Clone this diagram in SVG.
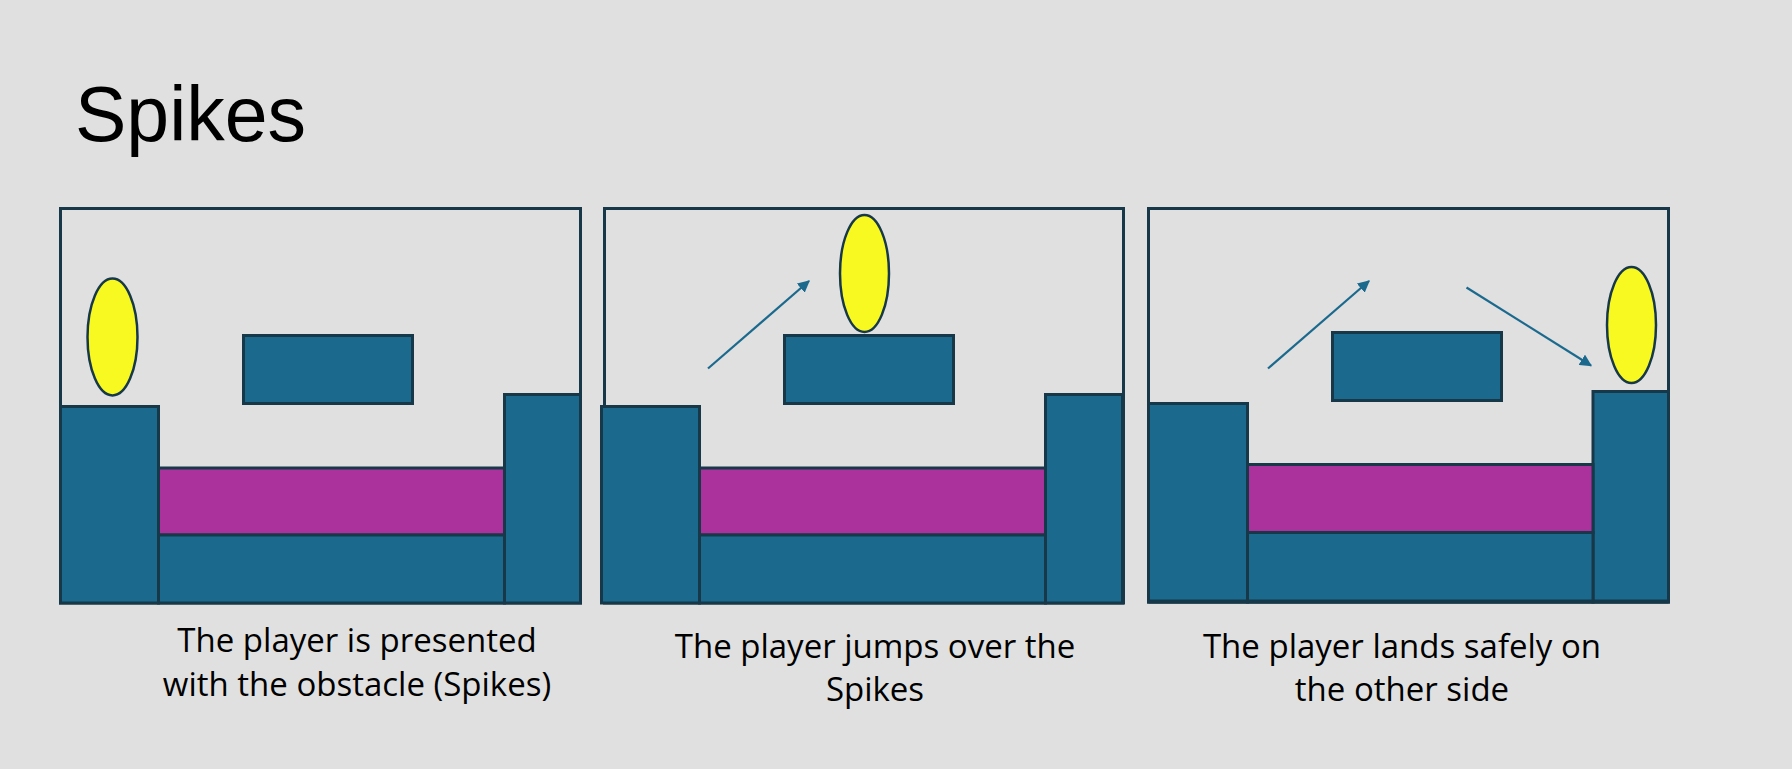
<svg xmlns="http://www.w3.org/2000/svg" width="1792" height="769" viewBox="0 0 1792 769">
<defs>
<style>
.frame{fill:#e0e0e0;stroke:#173848;stroke-width:3}
.blk{fill:#1b6a8e;stroke:#173848;stroke-width:3}
.spk{fill:#ab319c;stroke:#173848;stroke-width:3}
.ply{fill:#f8f920;stroke:#173848;stroke-width:2.5}
.arr{stroke:#1b6a8e;stroke-width:2.2;fill:none;marker-end:url(#ah)}
.cap{font-family:"Open Sans","Liberation Sans",Arial,sans-serif;font-size:33px;fill:#000;text-anchor:middle}
</style>
<marker id="ah" viewBox="0 0 10 10" refX="9" refY="5" markerWidth="5.5" markerHeight="5.5" orient="auto" markerUnits="strokeWidth">
<path d="M0,0 L10,5 L0,10 z" fill="#1b6a8e"/>
</marker>
</defs>
<rect width="1792" height="769" fill="#e0e0e0"/>
<text x="75" y="141" font-family="Liberation Sans,Arial,sans-serif" font-size="77" fill="#000">Spikes</text>

<g id="panel1">
<rect class="frame" x="60.5" y="208.5" width="520" height="394.5"/>
<rect class="blk" x="60.5" y="406.5" width="98" height="196.5"/>
<rect class="blk" x="504.5" y="394.5" width="76" height="208.5"/>
<rect class="spk" x="158.5" y="468" width="346" height="67"/>
<rect class="blk" x="158.5" y="535" width="346" height="68"/>
<rect class="blk" x="243.5" y="335.5" width="169" height="68"/>
<ellipse class="ply" cx="112.5" cy="337" rx="25" ry="58.5"/>
</g>

<g id="panel2">
<rect class="frame" x="604.5" y="208.5" width="519" height="394.5"/>
<rect class="blk" x="601.5" y="406.5" width="98" height="196.5"/>
<rect class="blk" x="1045.5" y="394.5" width="77" height="208.5"/>
<rect class="spk" x="699.5" y="468" width="346" height="67"/>
<rect class="blk" x="699.5" y="535" width="346" height="68"/>
<rect class="blk" x="784.5" y="335.5" width="169" height="68"/>
<ellipse class="ply" cx="864.5" cy="273.5" rx="24.5" ry="58.5"/>
</g>

<g id="panel3">
<rect class="frame" x="1148.5" y="208.5" width="520" height="393.5"/>
<rect class="blk" x="1148.5" y="403.5" width="99" height="198.5"/>
<rect class="blk" x="1593" y="391.5" width="75.5" height="210.5"/>
<rect class="spk" x="1247.5" y="464.5" width="345.5" height="68"/>
<rect class="blk" x="1247.5" y="532.5" width="345.5" height="69.5"/>
<rect class="blk" x="1332.5" y="332.5" width="169" height="68"/>
<ellipse class="ply" cx="1631.5" cy="325" rx="24.5" ry="58"/>
<line x1="1148.5" y1="601.5" x2="1668.5" y2="601.5" stroke="#173848" stroke-width="4"/>
</g>

<g id="connectors">
<line class="arr" x1="708" y1="368.5" x2="809" y2="281"/>
<line class="arr" x1="1268" y1="368.5" x2="1369" y2="281"/>
<line class="arr" x1="1466.5" y1="287.5" x2="1591" y2="365.5"/>
</g>

<g id="captions">
<text class="cap" x="357" y="652">The player is presented</text>
<text class="cap" x="357" y="696">with the obstacle (Spikes)</text>
<text class="cap" x="875" y="658">The player jumps over the</text>
<text class="cap" x="875" y="701">Spikes</text>
<text class="cap" x="1402" y="658">The player lands safely on</text>
<text class="cap" x="1402" y="701">the other side</text>
</g>
</svg>
